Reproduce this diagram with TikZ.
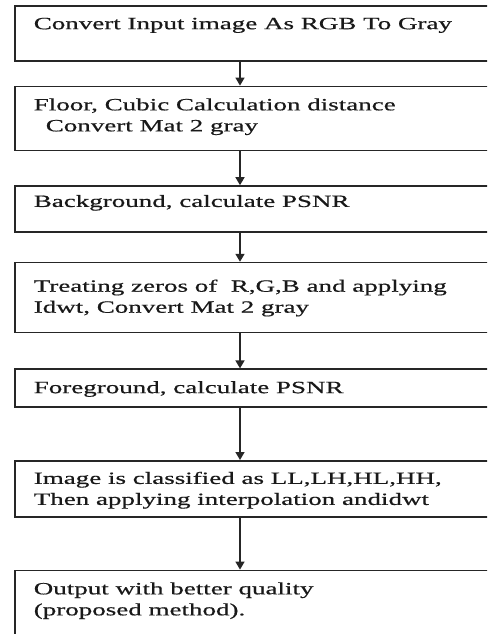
\documentclass[tikz,border=0pt]{standalone}
\usepackage{fontspec}
\newfontfamily\stepfont[FakeStretch=1.57,FakeBold=0.6]{Liberation Serif}
\usetikzlibrary{positioning,arrows.meta}

\begin{document}
\begin{tikzpicture}[x=1pt,y=-1pt,
    stepbox/.style 2 args={draw=black!85, line width=1.6pt, inner sep=0pt, text=black!90,
      execute at begin node={\begin{minipage}[c][#1][t]{540pt}\stepfont\fontsize{17.2}{21}\selectfont
        \raggedright\leftskip=19pt\vspace*{#2}},
      execute at end node={\end{minipage}}},
    flow/.style={draw=black!85, line width=1.5pt, -{Triangle[width=9pt,length=8pt]}}]
  \useasboundingbox (0,0) rectangle (487,634);
  \clip (0,0) rectangle (487,634);
  \coordinate (spine) at (240,0);

  % processing steps, top to bottom
  \node[stepbox={55pt}{12pt}, anchor=north west] (gray) at (14,5) {Convert Input image As RGB To Gray};
  \node[stepbox={64pt}{12pt}, below right=24pt and 0pt of gray.south west] (cubic)
    {Floor, Cubic Calculation distance\\\hspace*{12pt}Convert Mat 2 gray};
  \node[stepbox={46pt}{9pt}, below right=34pt and 0pt of cubic.south west] (bgpsnr)
    {Background, calculate PSNR};
  \node[stepbox={70pt}{17pt}, below right=29pt and 0pt of bgpsnr.south west] (zeros)
    {Treating zeros of\ \ R,G,B and applying\\Idwt, Convert Mat 2 gray};
  \node[stepbox={38pt}{12pt}, below right=35pt and 0pt of zeros.south west] (fgpsnr)
    {Foreground, calculate PSNR};
  \node[stepbox={56pt}{11pt}, below right=52pt and 0pt of fgpsnr.south west] (classify)
    {Image is classified as LL,LH,HL,HH,\\Then applying interpolation andidwt};
  \node[stepbox={100pt}{12pt}, below right=52pt and 0pt of classify.south west] (output)
    {Output with better quality\\(proposed method).};

  % arrows down the middle
  \draw[flow] (gray.south -| spine) -- (cubic.north -| spine);
  \draw[flow] (cubic.south -| spine) -- (bgpsnr.north -| spine);
  \draw[flow] (bgpsnr.south -| spine) -- (zeros.north -| spine);
  \draw[flow] (zeros.south -| spine) -- (fgpsnr.north -| spine);
  \draw[flow] (fgpsnr.south -| spine) -- (classify.north -| spine);
  \draw[flow] (classify.south -| spine) -- (output.north -| spine);
\end{tikzpicture}
\end{document}
